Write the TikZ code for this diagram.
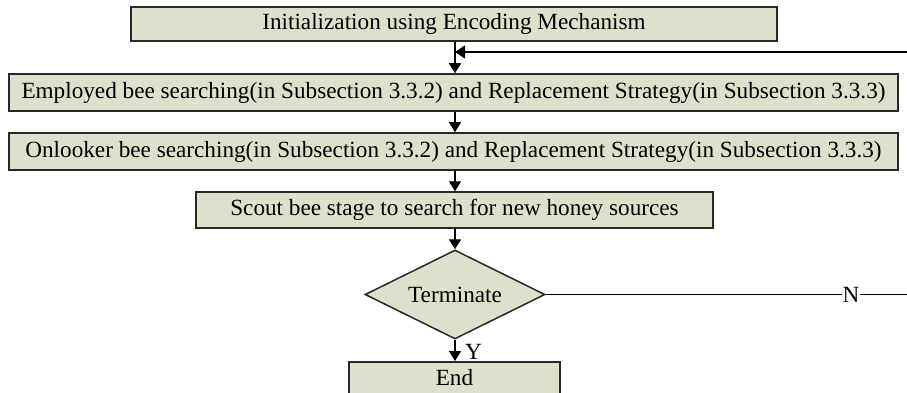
\documentclass[tikz,border=0pt]{standalone}
\usepackage{fontspec}
\setmainfont{Liberation Serif}
\usetikzlibrary{arrows.meta,shapes.geometric}
\definecolor{boxfill}{RGB}{221,225,204}
\definecolor{boxline}{RGB}{40,40,40}
\begin{document}
\begin{tikzpicture}[x=1pt,y=-1pt,
  every node/.style={font=\fontsize{23.2}{27}\selectfont},
  procbox/.style={draw=boxline,line width=1.5pt,fill=boxfill,inner sep=0pt},
  flow/.style={draw=black,line width=1.4pt,-{Triangle[width=12pt,length=10pt]}},
  plain/.style={draw=black,line width=1.3pt}]
\useasboundingbox (0,0) rectangle (907,393);
\clip (0,0) rectangle (907,393);
% process boxes
\node[procbox,minimum width=646pt,minimum height=34pt] (init) at (454,24) {Initialization using Encoding Mechanism};
\node[procbox,minimum width=889pt,minimum height=37pt] (emp) at (453.5,92.5) {Employed bee searching(in Subsection 3.3.2) and Replacement Strategy(in Subsection 3.3.3)};
\node[procbox,minimum width=889pt,minimum height=37pt] (onl) at (453.5,151.5) {Onlooker bee searching(in Subsection 3.3.2) and Replacement Strategy(in Subsection 3.3.3)};
\node[procbox,minimum width=517pt,minimum height=36pt] (scout) at (454.5,210) {Scout bee stage to search for new honey sources};
\node[procbox,diamond,aspect=2,minimum width=180pt,minimum height=89pt] (term) at (455,294.5) {Terminate};
\node[procbox,minimum width=211pt,minimum height=40pt,anchor=north] (end) at (454.5,361) {\raisebox{9pt}{End}};
% feedback line
\coordinate (fbR) at (907,52);
\coordinate (fbL) at (455,52);
\coordinate (nR) at (907,294.5);
% connectors
\draw[flow] (init.south -| fbL) -- (emp.north -| fbL);
\draw[flow,-{Triangle[width=13pt,length=10pt]}] (fbR) -- (fbL);
\draw[flow] (emp.south -| fbL) -- (onl.north -| fbL);
\draw[flow] (onl.south -| fbL) -- (scout.north -| fbL);
\draw[flow] (scout.south -| term.north) -- (term.north);
\draw[flow] (term.south) -- node[right,xshift=6pt,yshift=-2pt]{Y} (end.north -| term.south);
\draw[plain] (term.east) -- node[fill=white,inner sep=1pt,pos=0.845]{N} (nR);
\end{tikzpicture}
\end{document}
